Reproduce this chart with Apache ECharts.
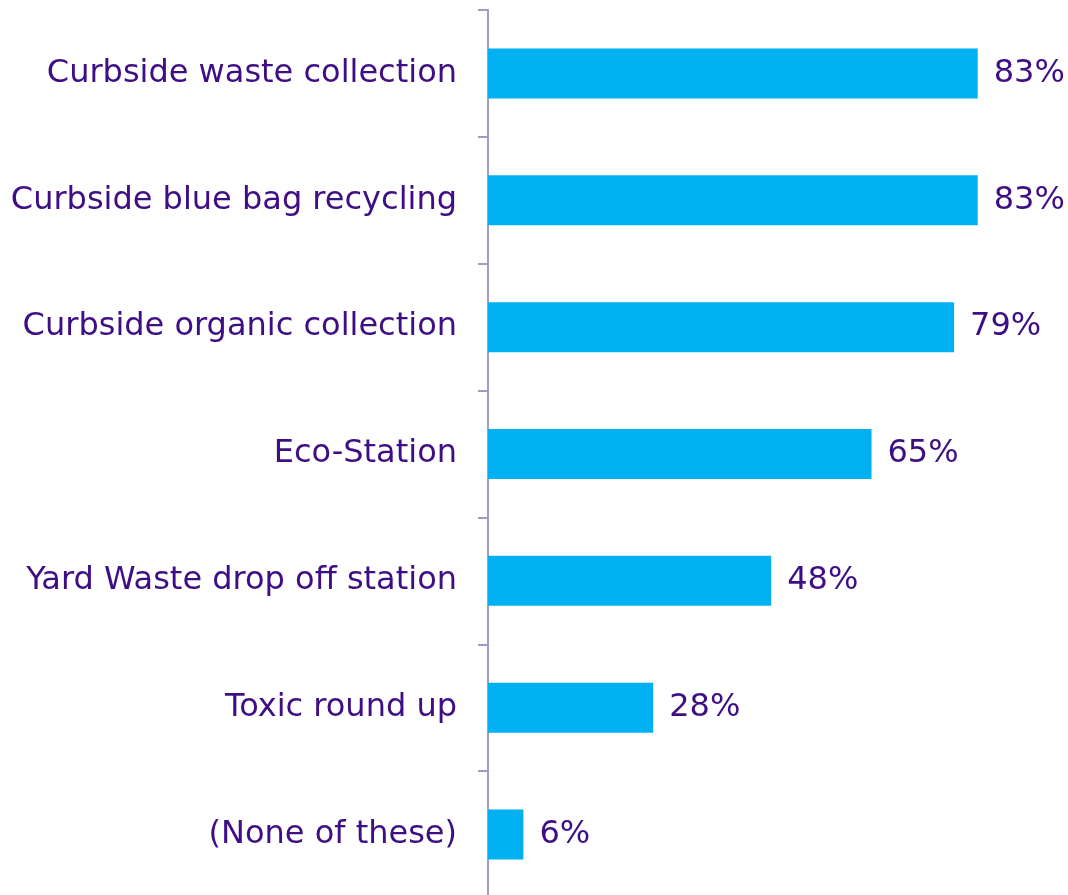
<!DOCTYPE html>
<html>
<head>
<meta charset="utf-8">
<script src="https://cdn.jsdelivr.net/npm/echarts@6/dist/echarts.min.js"></script>
<style>
  html, body { margin: 0; padding: 0; background: #ffffff; overflow: hidden; }
  /* The axis runs past the bottom edge of the window without a closing tick */
  #chart { width: 1068px; height: 902px; }
</style>
</head>
<body>
<div id="chart"></div>
<script>
// Services used, share of respondents (%)
const categories = [
  'Curbside waste collection',
  'Curbside blue bag recycling',
  'Curbside organic collection',
  'Eco-Station',
  'Yard Waste drop off station',
  'Toxic round up',
  '(None of these)'
];
const shares = [83, 83, 79, 65, 48, 28, 6];

const textColor = '#3e0e84';
const axisColor = '#a09cc4';
const fontFamily = '"DejaVu Sans", Verdana, sans-serif';

const chart = echarts.init(document.getElementById('chart'), null, { renderer: 'canvas' });
chart.setOption({
  animation: false,
  backgroundColor: '#ffffff',
  grid: { left: 488, width: 531, top: 10, height: 888, containLabel: false },
  xAxis: {
    type: 'value',
    min: 0,
    max: 90,
    show: false
  },
  yAxis: {
    type: 'category',
    inverse: true,
    data: categories,
    axisLine: { show: true, lineStyle: { color: axisColor, width: 2 } },
    axisTick: {
      show: true,
      length: 10,
      lineStyle: { color: axisColor, width: 2 }
    },
    axisLabel: {
      margin: 31,
      color: textColor,
      fontSize: 32,
      fontFamily: fontFamily
    },
    splitLine: { show: false }
  },
  series: [{
    type: 'bar',
    data: shares,
    barWidth: 50,
    itemStyle: { color: '#00b0f0' },
    label: {
      show: true,
      position: 'right',
      distance: 16,
      formatter: '{c}%',
      color: textColor,
      fontSize: 32,
      fontFamily: fontFamily
    }
  }]
});
</script>
</body>
</html>
